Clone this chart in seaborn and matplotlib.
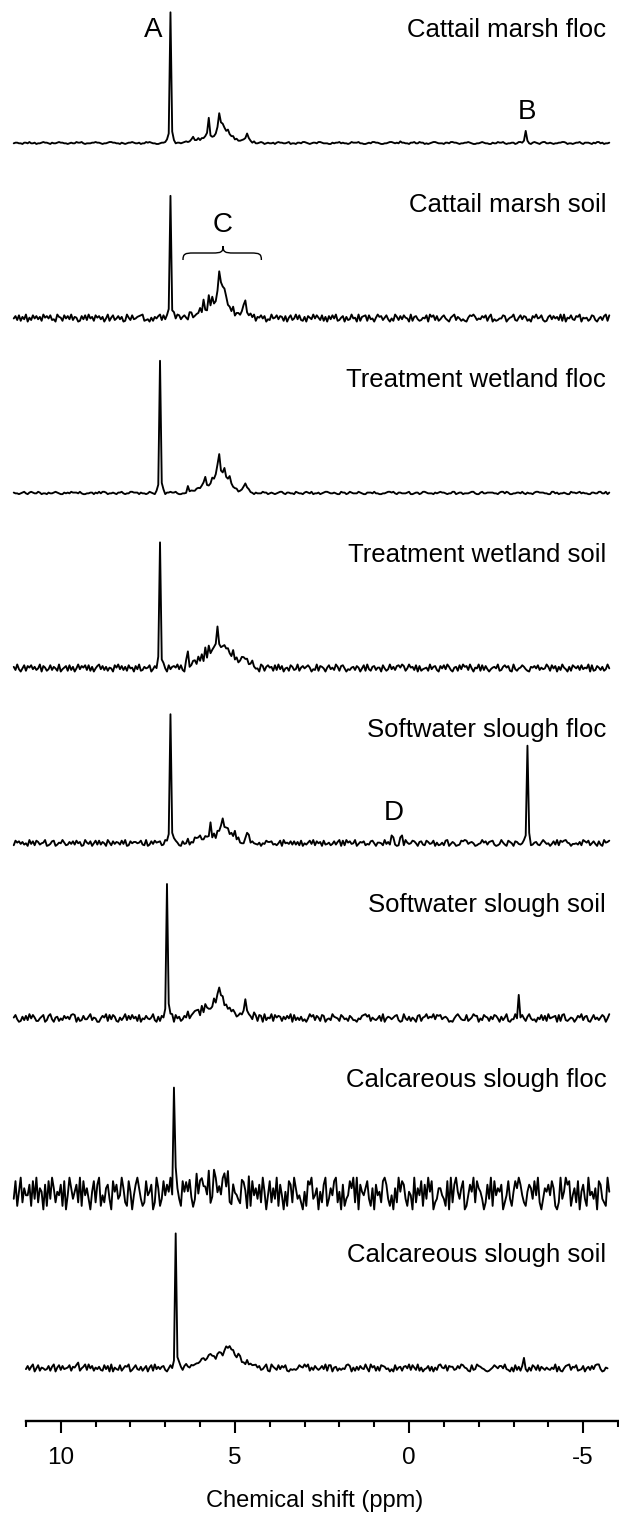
import numpy as np
import matplotlib.pyplot as plt
from matplotlib.path import Path
from matplotlib.patches import PathPatch
from matplotlib.ticker import MultipleLocator
import seaborn as sns

sns.set_style("ticks")
plt.rcParams["font.family"] = ["Liberation Sans", "DejaVu Sans"]
plt.rcParams["text.color"] = "black"
plt.rcParams["axes.labelcolor"] = "black"
plt.rcParams["xtick.color"] = "black"

labels = ["Cattail marsh floc", "Cattail marsh soil", "Treatment wetland floc",
          "Treatment wetland soil", "Softwater slough floc", "Softwater slough soil",
          "Calcareous slough floc", "Calcareous slough soil"]

# first ppm of each trace, 0.05 ppm per sample
start_ppm = [11.35, 11.35, 11.35, 11.35, 11.35, 11.35, 11.35, 11.0]
step = 0.05

# baseline noise, one digit per sample, and its size in intensity units
noise_unit = [0.5, 0.6, 0.6, 0.6, 0.5, 0.65, 2.7, 0.6]
noises = [
    "4554435546445344565543544565544345446556434445565"
    "5434456655443543455654453446565443345566544345545"
    "6543445563445654433544665543345445665443544565345"
    "4453565544563443554665434554665444335455645443465"
    "5564433454665543344566545435544355644655343456654"
    "4435546655434455654334456544335446556434455346654"
    "5443565435664454344556653443455643555435466453445",
    "4728163905284736195748230965184739265017382946185"
    "7360491582473601952834678912305164792835601749836"
    "8517024369285174031695827340916625820374916584703"
    "2945837617058249382160753948528160738491257062394"
    "5091678183405967258304196273854091673125480968271"
    "3684205792641310587962437581690312448703569215837"
    "6130759458201683746291905483276905451387204627918",
    "5443456435654465344354456543354546555464334455354"
    "6466534454355643446655535443465434564435565564334"
    "4355644564435345465443435665445344655643354446553"
    "4543456643554436544356546344534566544543365534654"
    "4465433555464433445665643554445633455346654443545"
    "6554344663455344456643356445555443566465334455464"
    "3544356655544336645344543365545645443355446644635",
    "6293048175836249075138264190357182604937582816047"
    "9372615408593726184507391264580371912640836759382"
    "0841576392704185632901476853923047568159324097168"
    "5618293704518623915746850329176405835296178403256"
    "2750481931672550841393627804714956280713451936720"
    "7483962056183967294054918273035649126857109314586"
    "3106574825349618470629530618647283549081275261394",
    "1857362409371862459013780254951263728460195370482"
    "8264095173652839017466458219027385671294634685107"
    "3490617856203418372955016748734912068915432504386"
    "6723148094537272618042583917460823513726908195734"
    "9036571327840554193628720156195348740672186348051"
    "2518903640128798356401349572678201395208640763249"
    "4781256215963403729186895403342619758147307209568",
    "5830162729485114680279305614274638980512733692540"
    "0475918386105259273846180437435920617268959084613"
    "7261345950827630491582715693860374154320861870925"
    "4918576163749082526130496827518703429654186341752"
    "2043789681532471904653578201942615307815694659387"
    "8356401047963228135977042865163874062591033917284"
    "1694230538271945670818921354037592671048352586049",
    "3815926447183926507183962547180496357291846305827"
    "9142673085734962185047963128457029613847592096318"
    "5748201936745280196342785910643218750918463729504"
    "8263917405187296342051879346052791364892507134869"
    "2907546831607452897314062958731540926481739580236"
    "6431809279536801475928653027391846570248315869742"
    "1576384920365748610293597814628057319453608732195",
    "3726904815423716905827345816508146929471536218370"
    "9053281476902583261470581936367204814957627830514"
    "2418765690314842570939136820184035757236910964283"
    "7581032324865969152742473918805614243897051627439"
    "4095716187634030825616749285291503471605289548176"
    "6237498541082397643101358647749320508261793051862"
    "81642532539061047892658123704627389930154",
]

# region 6.40 -> 4.40 ppm (0.05 steps): small peaks and broad humps
cluster_start = 6.40
clusters = [
    [1, 1, 2, 3, 5, 2, 2, 3, 3, 4, 4, 5, 7, 19, 6, 5, 6, 8, 12, 23, 16,
     14, 11, 9, 10, 7, 6, 6, 3, 3, 2, 2, 2, 2, 3, 7, 4, 2, 1, 1, 0],
    [0, 1, 3, 7, 2, 2, 4, 3, 5, 6, 12, 6, 8, 16, 10, 19, 12, 15, 20, 33, 27,
     22, 24, 15, 11, 9, 8, 6, 4, 3, 3, 4, 5, 8, 15, 7, 3, 2, 1, 0, 0],
    [1, 5, 1, 1, 2, 2, 3, 3, 4, 6, 9, 12, 7, 6, 7, 12, 10, 14, 22, 30, 18,
     16, 20, 12, 10, 12, 7, 5, 4, 3, 2, 2, 3, 4, 7, 4, 2, 1, 1, 0, 0],
    [4, 13, 3, 2, 4, 5, 4, 6, 7, 9, 8, 16, 10, 15, 11, 13, 17, 20, 29, 21, 18,
     17, 16, 14, 13, 11, 10, 11, 8, 9, 7, 6, 7, 8, 6, 5, 5, 3, 3, 2, 1],
    [0, 1, 1, 0, 2, 3, 2, 4, 5, 4, 5, 6, 5, 7, 14, 5, 6, 5, 7, 9, 13,
     21, 14, 11, 10, 7, 6, 4, 10, 3, 2, 2, 1, 2, 3, 6, 4, 2, 1, 0, 0],
    [2, 4, 2, 3, 4, 5, 3, 6, 5, 7, 6, 9, 7, 8, 10, 9, 12, 14, 18, 21, 19,
     15, 12, 10, 6, 5, 6, 4, 3, 4, 3, 2, 3, 8, 14, 6, 4, 3, 2, 2, 1],
    [2, 3, 1, 4, 2, 5, 3, 4, 6, 5, 7, 4, 6, 8, 5, 7, 6, 8, 5, 7, 6,
     5, 6, 4, 5, 3, 4, 3, 2, 3, 2, 2, 1, 2, 1, 1, 1, 0, 0, 0, 0],
    [1, 2, 3, 2, 4, 3, 5, 4, 7, 5, 6, 5, 7, 9, 8, 12, 10, 9, 11, 10, 12,
     11, 13, 15, 18, 14, 15, 11, 12, 9, 10, 7, 6, 7, 5, 4, 3, 6, 3, 2, 1],
]

# sharp lines (ppm, intensity)
main_peaks = [
    [(6.85, 100), (6.90, 7), (6.80, 9), (6.95, 2), (6.75, 3),
     (0.25, 2), (-3.35, 9), (-3.30, 2), (-3.40, 2)],
    [(6.85, 96), (6.90, 6), (6.80, 8), (6.95, 2), (6.75, 3)],
    [(7.15, 100), (7.20, 6), (7.10, 8), (7.25, 2), (7.05, 3)],
    [(7.15, 98), (7.20, 6), (7.10, 8), (7.25, 2), (7.05, 3), (0.25, 3), (0.20, 3)],
    [(6.85, 99), (6.90, 6), (6.80, 8), (6.95, 2), (6.75, 3),
     (0.50, 4), (0.45, 3), (0.25, 4), (0.20, 5), (-3.40, 73), (-3.35, 6), (-3.45, 6)],
    [(6.95, 100), (7.00, 6), (6.90, 8), (7.05, 2), (6.85, 3),
     (-3.15, 16), (-3.10, 2), (-3.20, 2)],
    [(6.75, 93), (6.80, 6), (6.70, 8)],
    [(6.70, 100), (6.75, 6), (6.65, 8), (6.80, 2), (6.60, 3),
     (9.55, 5), (9.50, 2), (-3.30, 5)],
]

px_per_unit = 1.31
row = 175
top_base = 1278

fig = plt.figure(figsize=(6.19, 15.2), dpi=100)
ax = fig.add_axes([12 / 619, 99 / 1520, 606 / 619, 1421 / 1520])

for k in range(8):
    y = np.array([int(c) for c in noises[k]], dtype=float)
    y = (y - y.mean()) * noise_unit[k]
    x = start_ppm[k] - step * np.arange(len(y))
    i0 = int(round((start_ppm[k] - cluster_start) / step))
    y[i0:i0 + len(clusters[k])] += clusters[k]
    for ppm, h in main_peaks[k]:
        y[int(round((start_ppm[k] - ppm) / step))] += h
    base = top_base - row * k
    sns.lineplot(x=x, y=base + px_per_unit * y, ax=ax, color="black",
                 linewidth=1.35, estimator=None, sort=False)
    ax.text(-5.66, base + 113, labels[k], ha="right", va="center", fontsize=18.5)

ax.text(7.34, top_base + 113, "A", ha="center", va="center", fontsize=20)
ax.text(-3.38, top_base + 31, "B", ha="center", va="center", fontsize=20)
ax.text(5.34, top_base - row + 93, "C", ha="center", va="center", fontsize=20)
ax.text(0.45, top_base - 4 * row + 30, "D", ha="center", va="center", fontsize=20)

# brace over region C
yb = top_base - row + 65
x0, xc, x1 = 6.49, 5.34, 4.24
verts = [(x0, yb - 7), (x0, yb - 1), (x0 - 0.05, yb), (x0 - 0.3, yb),
         (xc + 0.3, yb),
         (xc + 0.05, yb), (xc, yb + 1), (xc, yb + 7),
         (xc, yb + 1), (xc - 0.05, yb), (xc - 0.3, yb),
         (x1 + 0.3, yb),
         (x1 + 0.05, yb), (x1, yb - 1), (x1, yb - 7)]
codes = [Path.MOVETO, Path.CURVE4, Path.CURVE4, Path.CURVE4, Path.LINETO,
         Path.CURVE4, Path.CURVE4, Path.CURVE4, Path.CURVE4, Path.CURVE4, Path.CURVE4,
         Path.LINETO, Path.CURVE4, Path.CURVE4, Path.CURVE4]
ax.add_patch(PathPatch(Path(verts, codes), facecolor="none", edgecolor="black", linewidth=1.0))

ax.set_xlim(11.4, -6.0)
ax.set_ylim(0, 1421)
ax.set_yticks([])
for side in ["left", "top", "right"]:
    ax.spines[side].set_visible(False)
ax.spines["bottom"].set_bounds(11, -6)
ax.spines["bottom"].set_linewidth(1.7)
ax.spines["bottom"].set_color("black")
ax.xaxis.set_major_locator(MultipleLocator(5))
ax.xaxis.set_minor_locator(MultipleLocator(1))
ax.tick_params(axis="x", which="major", length=8.5, width=1.5, labelsize=17.5, pad=10)
ax.tick_params(axis="x", which="minor", length=4.5, width=1.5)
ax.set_xticks([10, 5, 0, -5])
ax.set_xticklabels(["10", "5", "0", "-5"])
ax.set_xlabel("Chemical shift (ppm)", fontsize=17, labelpad=15)
ax.set_facecolor("white")

plt.savefig("out.png", dpi=100)
